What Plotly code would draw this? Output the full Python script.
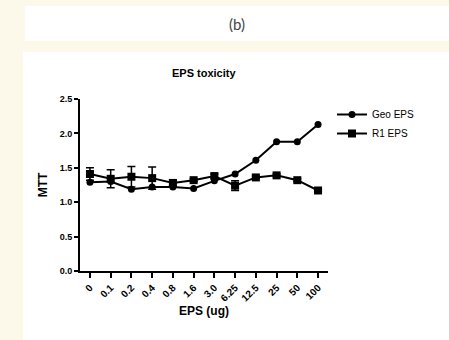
import plotly.graph_objects as go

categories = ["0", "0.1", "0.2", "0.4", "0.8", "1.6", "3.0", "6.25", "12.5", "25", "50", "100"]
geo_eps = [1.29, 1.30, 1.19, 1.22, 1.22, 1.20, 1.31, 1.41, 1.61, 1.88, 1.88, 2.13]
r1_eps = [1.41, 1.34, 1.37, 1.35, 1.28, 1.32, 1.38, 1.24, 1.36, 1.39, 1.32, 1.17]
r1_err = [0.09, 0.13, 0.15, 0.16, 0.04, 0.02, 0.03, 0.07, 0.02, 0.02, 0.02, 0.02]
y_ticks = [0.0, 0.5, 1.0, 1.5, 2.0, 2.5]

W, H = 449, 340
L, R, T, B = 80, 328, 99, 271  # plot area pixels

def px(x):
    return (x - L) / (R - L)

def py(y):
    return (B - y) / (B - T)

xpos = list(range(len(categories)))

fig = go.Figure()
fig.add_trace(go.Scatter(
    x=xpos, y=geo_eps, name="Geo EPS", mode="lines+markers",
    line=dict(color="black", width=2),
    marker=dict(symbol="circle", size=7, color="black"),
))
fig.add_trace(go.Scatter(
    x=xpos, y=r1_eps, name="R1 EPS", mode="lines+markers",
    line=dict(color="black", width=2),
    marker=dict(symbol="square", size=8, color="black"),
    error_y=dict(type="data", array=r1_err, visible=True, color="black", thickness=1.5, width=4),
))

cream = "#fdf9ea"
fig.update_layout(
    width=W, height=H,
    margin=dict(l=L, r=W - R, t=T, b=H - B),
    paper_bgcolor=cream,
    plot_bgcolor="white",
    showlegend=True,
    legend=dict(x=px(332), y=py(100), xanchor="left", yanchor="top",
                font=dict(family="Liberation Sans, Arial", size=10, color="black"),
                bgcolor="rgba(0,0,0,0)", itemwidth=30, tracegroupgap=0),
    shapes=[
        dict(type="rect", xref="paper", yref="paper", x0=px(25), x1=px(452), y0=py(6), y1=py(41),
             fillcolor="white", line=dict(width=0), layer="below"),
        dict(type="rect", xref="paper", yref="paper", x0=px(23), x1=px(452), y0=py(52), y1=py(343),
             fillcolor="white", line=dict(width=0), layer="below"),
    ],
    annotations=[
        dict(text="(b)", xref="paper", yref="paper", x=px(237), y=py(24), showarrow=False,
             xanchor="center", yanchor="middle",
             font=dict(family="Lato, DejaVu Sans", size=15, color="#444")),
        dict(text="<b>EPS toxicity</b>", xref="paper", yref="paper", x=px(204), y=py(73), showarrow=False,
             xanchor="center", yanchor="middle",
             font=dict(family="Liberation Sans, Arial", size=11, color="black")),
    ],
    xaxis=dict(
        range=[-0.48, 11.48], tickmode="array", tickvals=xpos,
        ticktext=["<b>%s</b>" % c for c in categories], tickangle=-45,
        showgrid=False, zeroline=False, showline=True, linecolor="black", linewidth=2,
        ticks="outside", ticklen=5, tickwidth=2, tickcolor="black",
        tickfont=dict(family="Liberation Sans, Arial", size=10, color="black"),
        title=dict(text="<b>EPS (ug)</b>", font=dict(family="Liberation Sans, Arial", size=12, color="black"), standoff=4),
    ),
    yaxis=dict(
        range=[0, 2.5], tickmode="array", tickvals=y_ticks,
        ticktext=["<b>%.1f</b>" % v for v in y_ticks],
        showgrid=False, zeroline=False, showline=True, linecolor="black", linewidth=2,
        ticks="outside", ticklen=4, tickwidth=2, tickcolor="black",
        tickfont=dict(family="Liberation Sans, Arial", size=9, color="black"),
        title=dict(text="<b>MTT</b>", font=dict(family="Liberation Sans, Arial", size=12, color="black"), standoff=9),
    ),
)

fig.write_html("out.html", config={"displayModeBar": False},
               post_script="document.body.style.margin='0';document.body.style.padding='0';")
